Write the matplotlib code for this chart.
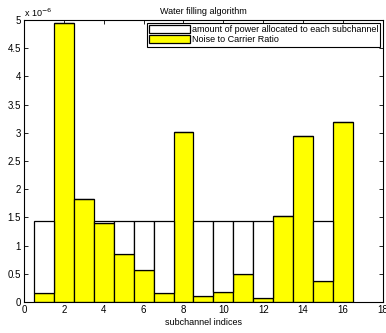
import numpy as np
import matplotlib.pyplot as plt
from matplotlib.ticker import FuncFormatter, MultipleLocator

plt.rcParams['font.family'] = ['Liberation Sans', 'DejaVu Sans']

# noise-to-carrier ratio per subchannel
subchannels = np.arange(1, 17)
noise = np.array([0.167, 4.95, 1.83, 1.40, 0.86, 0.575, 0.167, 3.02,
                  0.106, 0.18, 0.49, 0.07, 1.525, 2.95, 0.37, 3.20]) * 1e-6
water_level = 1.445e-6
power = np.clip(water_level - noise, 0, None)

fig = plt.figure(figsize=(3.86, 3.33), dpi=100)
ax = fig.add_axes([0.062, 0.093, 0.93, 0.847])

ax.bar(subchannels, noise, width=1.0, color='#ffff00', edgecolor='black',
       linewidth=0.9, label='Noise to Carrier Ratio', zorder=2)
ax.bar(subchannels, power, bottom=noise, width=1.0, color='white',
       edgecolor='black', linewidth=0.9,
       label='amount of power allocated to each subchannel', zorder=2)

ax.set_xlim(0, 18)
ax.set_ylim(0, 5e-6)
ax.xaxis.set_major_locator(MultipleLocator(2))
ax.yaxis.set_major_locator(MultipleLocator(0.5e-6))
ax.yaxis.set_major_formatter(FuncFormatter(lambda v, pos: '%g' % round(v / 1e-6, 3)))
ax.text(0.0, 1.005, r'x 10$^{-6}$', transform=ax.transAxes, fontsize=6.5,
        ha='left', va='bottom')

ax.tick_params(direction='in', top=True, right=True, labelsize=7,
               length=3, width=0.6, pad=2)
for s in ax.spines.values():
    s.set_linewidth(0.8)

ax.set_title('Water filling algorithm', fontsize=6.5, pad=4)
ax.set_xlabel('subchannel indices', fontsize=6.5, labelpad=2)

handles, labels = ax.get_legend_handles_labels()
leg = ax.legend(handles[::-1], labels[::-1], loc='upper right', fontsize=6.5,
                fancybox=False, edgecolor='black', framealpha=1,
                borderpad=0.25, labelspacing=0.15, handlelength=4.5,
                handleheight=0.9, handletextpad=0.2, borderaxespad=0.3)
leg.get_frame().set_linewidth(0.8)

fig.savefig('out.png', dpi=100)
